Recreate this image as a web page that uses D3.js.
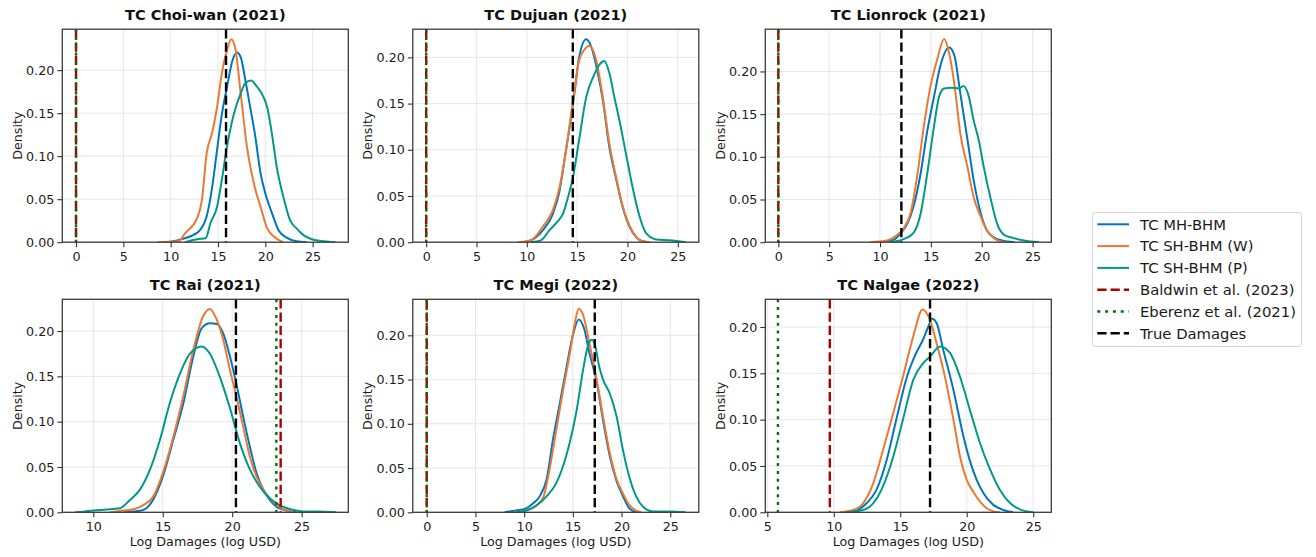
<!DOCTYPE html>
<html><head><meta charset="utf-8">
<script src="https://cdn.jsdelivr.net/npm/d3@7"></script>
<style>body{margin:0;background:#fff}svg{display:block;font-family:"DejaVu Sans",sans-serif}</style>
</head><body><svg id="c" width="1316" height="557"></svg>
<script>
// ---- data ----
const seriesNames = ["TC MH-BHM", "TC SH-BHM (W)", "TC SH-BHM (P)"];
const refNames = ["Baldwin et al. (2023)", "Eberenz et al. (2021)", "True Damages"];
const titles = ["TC Choi-wan (2021)", "TC Dujuan (2021)", "TC Lionrock (2021)", "TC Rai (2021)", "TC Megi (2022)", "TC Nalgae (2022)"];
const xDomains = [[-1.45, 28.77], [-1.33, 27.09], [-1.28, 26.84], [7.77, 28.36], [-1.43, 27.93], [4.85, 26.36]];
const yMaxes = [0.2476, 0.2305, 0.2495, 0.235, 0.2407, 0.2299];
const xTicks = [[0,5,10,15,20,25],[0,5,10,15,20,25],[0,5,10,15,20,25],[10,15,20,25],[0,5,10,15,20,25],[5,10,15,20,25]];
const yTicks = [0, 0.05, 0.10, 0.15, 0.20];
const baldwin = [0, 0, 0, 23.49, 0, 9.7];
const eberenz = [0, 0, 0, 23.18, 0, 5.8];
const trueDamages = [15.85, 14.57, 12.1, 20.27, 17.25, 17.24];

const choiwanMH = [[9.5,0],[11.0,0.003],[12.4,0.0085],[13.1,0.014],[13.8,0.03],[14.4,0.065],[14.9,0.107],[15.4,0.148],[15.95,0.18],[16.5,0.21],[17.0,0.2205],[17.4,0.215],[17.9,0.188],[18.4,0.157],[18.9,0.126],[19.5,0.08],[20.0,0.057],[20.7,0.034],[21.4,0.014],[22.3,0.005],[23.3,0.001],[24.4,0]];
const choiwanW = [[8.56,0],[10.85,0.001],[11.5,0.01],[12.8,0.028],[13.3,0.049],[13.8,0.103],[14.4,0.128],[14.9,0.157],[15.4,0.196],[15.95,0.223],[16.4,0.236],[16.8,0.227],[17.4,0.173],[18.06,0.111],[18.8,0.068],[19.5,0.041],[20.2,0.016],[20.9,0.0066],[21.9,0]];
const choiwanP = [[11.5,0],[12.8,0.0035],[13.7,0.0046],[14.2,0.022],[14.9,0.041],[15.4,0.072],[15.95,0.111],[16.65,0.148],[17.4,0.173],[17.9,0.185],[18.5,0.188],[19.1,0.181],[19.8,0.169],[20.2,0.157],[20.7,0.126],[21.2,0.088],[21.9,0.053],[22.6,0.026],[23.3,0.016],[24.0,0.0085],[24.9,0.0035],[26.2,0.001],[27.4,0]];

const dujuanMH = [[9.6,0],[10.6,0.003],[11.6,0.013],[12.6,0.031],[13.2,0.053],[13.9,0.1],[14.6,0.150],[15.2,0.2],[15.9,0.2195],[16.4,0.2115],[17.05,0.183],[17.55,0.154],[18.2,0.103],[18.9,0.067],[19.5,0.039],[20.2,0.017],[20.9,0.005],[21.5,0.001],[22.2,0]];
const dujuanW = [[9.1,0],[10.4,0.002],[11.6,0.017],[12.6,0.035],[13.2,0.057],[13.9,0.1],[14.6,0.154],[15.2,0.197],[15.7,0.208],[16.2,0.2126],[16.9,0.197],[17.55,0.157],[18.2,0.107],[18.9,0.069],[19.5,0.04],[20.2,0.018],[20.9,0.0054],[21.5,0.0007],[22.2,0]];
const dujuanP = [[10.4,0],[11.4,0.002],[12.25,0.013],[13.1,0.023],[13.6,0.031],[14.1,0.049],[14.6,0.071],[15.2,0.111],[15.9,0.157],[16.6,0.179],[17.2,0.192],[17.7,0.196],[18.2,0.183],[18.7,0.157],[19.2,0.132],[19.9,0.093],[20.5,0.06],[21.2,0.028],[21.85,0.0097],[22.85,0.003],[24.2,0.002],[25.8,0]];

const lionrockMH = [[10.0,0],[11.35,0.003],[12.0,0.01],[12.7,0.022],[13.3,0.042],[14.0,0.081],[14.6,0.127],[15.3,0.17],[15.9,0.205],[16.8,0.228],[17.3,0.219],[17.9,0.174],[18.6,0.12],[19.2,0.073],[19.9,0.034],[20.5,0.014],[21.2,0.0055],[22.0,0.002],[23.2,0]];
const lionrockW = [[9.05,0],[10.7,0.002],[11.7,0.0086],[12.3,0.016],[13.0,0.034],[13.65,0.077],[14.3,0.135],[14.95,0.182],[15.6,0.213],[16.3,0.238],[16.8,0.221],[17.3,0.186],[17.9,0.127],[18.6,0.088],[19.2,0.053],[19.9,0.03],[20.5,0.014],[21.2,0.0047],[21.85,0.001],[22.5,0]];
const lionrockP = [[11.0,0],[12.3,0.0035],[13.3,0.011],[14.0,0.034],[14.6,0.077],[15.3,0.135],[15.8,0.17],[16.3,0.18],[17.0,0.181],[17.75,0.18],[18.2,0.183],[18.7,0.172],[19.2,0.143],[19.7,0.12],[20.2,0.088],[20.9,0.05],[21.5,0.022],[22.2,0.0086],[23.2,0.0047],[24.15,0.002],[25.6,0]];

const raiMH = [[12.16,0],[12.9,0.001],[13.6,0.0026],[14.3,0.0136],[15.0,0.039],[15.76,0.08],[16.48,0.12],[17.2,0.172],[17.8,0.203],[18.4,0.2085],[18.9,0.2077],[19.36,0.197],[19.84,0.172],[20.3,0.142],[20.8,0.105],[21.28,0.072],[21.76,0.043],[22.24,0.025],[22.7,0.0136],[23.2,0.006],[23.9,0.002],[24.6,0]];
const raiW = [[11.2,0],[12.16,0.002],[12.88,0.0033],[13.6,0.008],[14.3,0.017],[15.0,0.043],[15.76,0.083],[16.48,0.128],[17.2,0.179],[17.9,0.216],[18.4,0.2243],[18.9,0.212],[19.36,0.19],[19.84,0.157],[20.3,0.128],[20.8,0.094],[21.28,0.061],[21.76,0.039],[22.24,0.025],[22.7,0.0154],[23.2,0.008],[23.7,0.0033],[24.4,0]];
const raiP = [[8.7,0],[9.3,0.0007],[10.0,0.002],[10.96,0.003],[11.9,0.0044],[12.64,0.0136],[13.36,0.025],[14.08,0.047],[14.8,0.08],[15.5,0.12],[16.24,0.153],[16.96,0.175],[17.8,0.183],[18.4,0.175],[19.1,0.15],[19.8,0.117],[20.56,0.076],[21.28,0.047],[22.0,0.028],[22.7,0.0154],[23.4,0.008],[24.2,0.0033],[25.1,0.001],[26.1,0.001],[27.5,0]];

const megiMH = [[8.0,0],[9.2,0.002],[10.2,0.0045],[10.9,0.01],[11.6,0.018],[12.3,0.037],[13.0,0.085],[13.66,0.123],[14.3,0.161],[15.0,0.2],[15.6,0.218],[16.2,0.206],[16.7,0.18],[17.4,0.15],[18.1,0.104],[18.8,0.063],[19.5,0.035],[20.15,0.018],[20.8,0.0045],[21.5,0]];
const megiW = [[8.9,0],[10.2,0.002],[11.3,0.008],[12.0,0.018],[12.6,0.048],[13.3,0.093],[14.0,0.138],[14.7,0.18],[15.2,0.2135],[15.6,0.23],[16.05,0.223],[16.7,0.191],[17.4,0.153],[18.1,0.108],[18.8,0.067],[19.5,0.037],[20.15,0.021],[20.8,0.008],[21.5,0.002],[22.0,0]];
const megiP = [[9.2,0],[10.2,0.002],[11.3,0.008],[12.3,0.018],[13.3,0.033],[14.3,0.063],[15.4,0.116],[16.05,0.161],[16.6,0.19],[16.95,0.195],[17.3,0.188],[17.7,0.165],[18.1,0.15],[18.8,0.134],[19.5,0.108],[20.15,0.07],[20.8,0.04],[21.5,0.018],[22.2,0.0064],[23.2,0.001],[24.9,0.001],[26.6,0]];

const nalgaeMH = [[10.7,0],[11.7,0.002],[12.46,0.0097],[13.2,0.024],[13.97,0.056],[14.7,0.1],[15.5,0.146],[16.2,0.172],[16.7,0.186],[17.1,0.2],[17.4,0.209],[17.74,0.204],[18.24,0.175],[19.0,0.132],[19.75,0.082],[20.25,0.055],[20.75,0.035],[21.26,0.0205],[22.0,0.008],[22.76,0.0025],[23.5,0]];
const nalgaeW = [[10.45,0],[11.46,0.0025],[12.2,0.0097],[12.96,0.031],[13.7,0.067],[14.47,0.107],[15.2,0.146],[15.98,0.19],[16.68,0.219],[17.24,0.2076],[17.74,0.182],[18.24,0.154],[19.0,0.1],[19.5,0.06],[20.0,0.035],[20.5,0.022],[21.0,0.0115],[21.5,0.0043],[22.0,0.001],[22.5,0]];
const nalgaeP = [[10.95,0],[12.2,0.0025],[12.96,0.0097],[13.7,0.028],[14.47,0.06],[15.2,0.1],[15.98,0.143],[16.73,0.161],[17.24,0.168],[18.0,0.179],[18.74,0.172],[19.5,0.146],[20.25,0.11],[21.0,0.0745],[21.76,0.046],[22.5,0.024],[23.27,0.0097],[24.0,0.0032],[25.0,0]];

const curves = [
  [choiwanMH, choiwanW, choiwanP],
  [dujuanMH, dujuanW, dujuanP],
  [lionrockMH, lionrockW, lionrockP],
  [raiMH, raiW, raiP],
  [megiMH, megiW, megiP],
  [nalgaeMH, nalgaeW, nalgaeP]
];

// ---- style ----
const colors = ["#0077BB", "#EE7733", "#009988"];
const refStyles = [
  {color: "#AA0000", dash: "9.25,4"},
  {color: "#007000", dash: "3,4.8"},
  {color: "#000000", dash: "9.25,4"}
];
const colLeft = [62.3, 412.8, 765.3], rowTop = [29.2, 299.3];
const pw = 286, ph = 213;

const svg = d3.select("#c");

curves.forEach((series, i) => {
  const left = colLeft[i % 3], top = rowTop[Math.floor(i / 3)];
  const g = svg.append("g").attr("transform", `translate(${left},${top})`);
  const x = d3.scaleLinear().domain(xDomains[i]).range([0, pw]);
  const y = d3.scaleLinear().domain([0, yMaxes[i]]).range([ph, 0]);

  g.append("clipPath").attr("id", "clip" + i).append("rect").attr("width", pw).attr("height", ph);

  // grid
  g.append("g").selectAll("line").data(xTicks[i]).join("line")
    .attr("x1", d => x(d)).attr("x2", d => x(d)).attr("y1", 0).attr("y2", ph)
    .attr("stroke", "#e3e3e3").attr("stroke-width", 0.9);
  g.append("g").selectAll("line").data(yTicks).join("line")
    .attr("y1", d => y(d)).attr("y2", d => y(d)).attr("x1", 0).attr("x2", pw)
    .attr("stroke", "#e3e3e3").attr("stroke-width", 0.9);

  const plot = g.append("g").attr("clip-path", `url(#clip${i})`);
  const line = d3.line().x(d => x(d[0])).y(d => y(d[1])).curve(d3.curveMonotoneX);
  series.forEach((s, k) => {
    plot.append("path").datum(s).attr("d", line)
      .attr("fill", "none").attr("stroke", colors[k]).attr("stroke-width", 2)
      .attr("stroke-linejoin", "round");
  });
  [baldwin[i], eberenz[i], trueDamages[i]].forEach((v, k) => {
    plot.append("line").attr("x1", x(v)).attr("x2", x(v)).attr("y1", 0).attr("y2", ph)
      .attr("stroke", refStyles[k].color).attr("stroke-width", 2.4)
      .attr("stroke-dasharray", refStyles[k].dash);
  });

  // axes
  const xa = g.append("g").attr("transform", `translate(0,${ph})`)
    .call(d3.axisBottom(x).tickValues(xTicks[i]).tickFormat(d3.format("d")).tickSize(5).tickPadding(4.5).tickSizeOuter(0));
  const ya = g.append("g")
    .call(d3.axisLeft(y).tickValues(yTicks).tickFormat(d3.format(".2f")).tickSize(5).tickPadding(3).tickSizeOuter(0));
  [xa, ya].forEach(a => {
    a.select(".domain").remove();
    a.selectAll("line").attr("stroke", "#333").attr("stroke-width", 1.1);
    a.selectAll("text").attr("font-size", 12.7).attr("fill", "#1a1a1a").attr("font-family", "DejaVu Sans");
  });
  g.append("rect").attr("width", pw).attr("height", ph).attr("fill", "none")
    .attr("stroke", "#333").attr("stroke-width", 1.25);

  // labels
  g.append("text").attr("x", pw / 2).attr("y", -9.5).attr("text-anchor", "middle")
    .attr("font-size", 14.6).attr("font-weight", "bold").attr("fill", "#111").text(titles[i]);
  g.append("text").attr("transform", `translate(-40.5,${ph / 2}) rotate(-90)`)
    .attr("text-anchor", "middle").attr("font-size", 12.7).attr("fill", "#1a1a1a").text("Density");
  if (i >= 3) {
    g.append("text").attr("x", pw / 2).attr("y", ph + 33.5).attr("text-anchor", "middle")
      .attr("font-size", 12.7).attr("fill", "#1a1a1a").text("Log Damages (log USD)");
  }
});

// legend
const lg = svg.append("g").attr("transform", "translate(1092.5,212.5)");
lg.append("rect").attr("width", 209).attr("height", 134).attr("rx", 3)
  .attr("fill", "#fff").attr("stroke", "#d5d5d5").attr("stroke-width", 1);
const legendItems = seriesNames.map((n, k) => ({name: n, color: colors[k], dash: null, w: 2}))
  .concat(refNames.map((n, k) => ({name: n, color: refStyles[k].color, dash: refStyles[k].dash, w: 2.4})));
legendItems.forEach((it, k) => {
  const cy = 11.8 + k * 21.8;
  lg.append("line").attr("x1", 4.8).attr("x2", 36.5).attr("y1", cy).attr("y2", cy)
    .attr("stroke", it.color).attr("stroke-width", it.w).attr("stroke-dasharray", it.dash);
  lg.append("text").attr("x", 47.5).attr("y", cy).attr("dy", "0.36em")
    .attr("font-size", 14.8).attr("fill", "#1a1a1a").text(it.name);
});
</script></body></html>
